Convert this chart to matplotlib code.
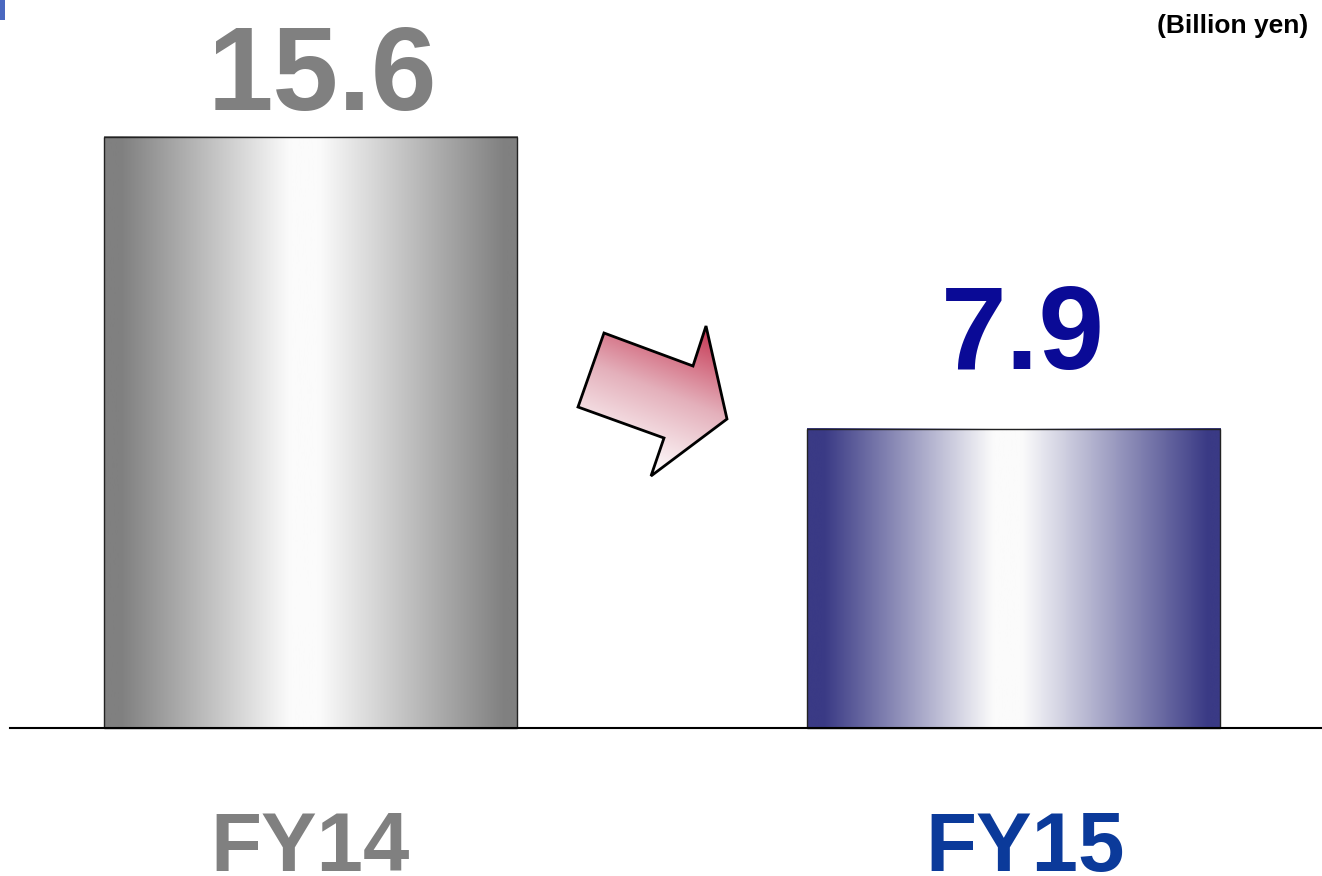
import numpy as np
import matplotlib.pyplot as plt
from matplotlib.colors import LinearSegmentedColormap
from matplotlib.patches import Polygon, Rectangle

# Operating income, billion yen
years = ['FY14', 'FY15']
values = [15.6, 7.9]
value_labels = ['15.6', '7.9']

value_colors = ['#808080', '#0a0a96']
year_colors = ['#808080', '#0b3a9a']
bar_edges = ['#808080', '#3a3a85']

plt.rcParams['font.family'] = ['Liberation Sans', 'DejaVu Sans']

fig = plt.figure(figsize=(13.22, 8.76), dpi=100)
ax = fig.add_axes([0, 0, 1, 1])
ax.axis('off')

width = 0.5875
x = np.arange(len(values))
grad = np.linspace(0, 1, 256).reshape(1, -1)
stops = [0.0, 0.04, 0.45, 0.52, 0.97, 1.0]

# label placement tweaks (data units)
label_lift = [0.71, 1.57]
label_shift = [0.017, 0.014]
year_shift = [0.0, 0.016]

for i, v in enumerate(values):
    dark = bar_edges[i]
    cmap = LinearSegmentedColormap.from_list(
        'bar%d' % i, list(zip(stops, [dark, dark, '#fbfbfb', '#fbfbfb', dark, dark])))
    left = x[i] - width / 2
    ax.imshow(grad, cmap=cmap, aspect='auto', extent=[left, left + width, 0, v],
              interpolation='bicubic', zorder=2)
    ax.add_patch(Rectangle((left, 0), width, v, fill=False, edgecolor='#222222',
                           linewidth=1.0, zorder=3))
    ax.text(x[i] + label_shift[i], v + label_lift[i], value_labels[i], ha='center',
            va='baseline', fontsize=85, fontweight='bold', color=value_colors[i], zorder=4)
    ax.text(x[i] + year_shift[i], -3.76, years[i], ha='center', va='baseline',
            fontsize=60, fontweight='bold', color=year_colors[i])

ax.set_xlim(-0.4417, 1.4388)
ax.set_ylim(-3.905, 19.21)

# baseline
ax.axhline(0, xmin=10 / 1322, xmax=1, color='black', linewidth=1.5, zorder=5)

# decoration layer in pixel coordinates
deco = fig.add_axes([0, 0, 1, 1])
deco.axis('off')
deco.patch.set_alpha(0)

deco.add_patch(Rectangle((0, 0), 5, 20, color='#4a68c0', linewidth=0))
deco.text(1308, 26, '(Billion yen)', ha='right', va='center', fontsize=19,
          fontweight='bold', color='black')

# decline arrow with a red-to-white gradient
arrow_pts = [(578, 407), (604, 333), (693, 366), (706, 326),
             (727, 419), (651, 476), (664, 438)]
arrow = Polygon(arrow_pts, closed=True, facecolor='none', edgecolor='black',
                linewidth=2, zorder=6)
deco.add_patch(arrow)
xx, yy = np.meshgrid(np.linspace(0, 1, 200), np.linspace(0, 1, 200))
shade = np.clip(0.35 * xx + 0.9 * (1 - yy) - 0.2, 0, 1)
acmap = LinearSegmentedColormap.from_list('arrow', ['#ffffff', '#e4b0bb', '#c42f4c'])
img = deco.imshow(shade, cmap=acmap, extent=[575, 730, 480, 322], origin='upper',
                  interpolation='bilinear', zorder=5, aspect='auto')
img.set_clip_path(Polygon(arrow_pts, closed=True, transform=deco.transData))
deco.set_xlim(0, 1322)
deco.set_ylim(876, 0)

fig.savefig('out.png', dpi=100)
